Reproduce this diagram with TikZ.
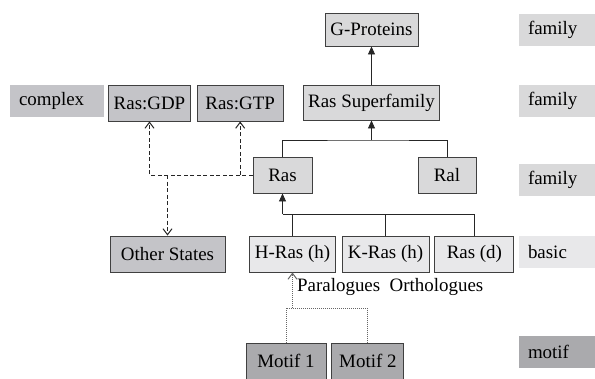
\documentclass[tikz,border=0pt]{standalone}
\usepackage{fontspec}
\setmainfont{Liberation Serif}
\usetikzlibrary{arrows.meta,positioning}
\definecolor{famfill}{RGB}{217,217,218}
\definecolor{cpxfill}{RGB}{196,196,200}
\definecolor{basfill}{RGB}{232,232,234}
\definecolor{motfill}{RGB}{170,170,173}
\tikzstyle{box} = [draw=black!75, line width=0.9bp, minimum height=36bp, inner xsep=5bp, font=\fontsize{19}{22}\selectfont]
\tikzstyle{tag} = [text width=58bp, inner xsep=9bp, minimum height=32bp, align=left, font=\fontsize{19}{22}\selectfont]
\tikzstyle{link} = [draw=black!85, line width=0.9bp]
\tikzstyle{uplink} = [link, -{Triangle[length=8bp,width=7bp]}]
\tikzstyle{openarr} = [-{Straight Barb[length=6bp,width=9bp,line width=1bp]}]
\tikzstyle{dashlink} = [link, dash pattern=on 4bp off 2.5bp, openarr]
\tikzstyle{dotlink} = [draw=black!60, line width=0.9bp, dash pattern=on 1bp off 1bp]

\begin{document}
\begin{tikzpicture}[x=1bp,y=-1bp]
\useasboundingbox (0,0) rectangle (595,378);

\node[box,fill=famfill,minimum width=93bp,minimum height=33bp] (gprot) at (371.5,29.5) {G-Proteins};
\node[box,fill=famfill,minimum height=35bp] (super) at (371.5,102.5) {Ras Superfamily};
\node[box,fill=famfill,minimum width=59bp] (ras) at (282.5,175) {Ras};
\node[box,fill=famfill,minimum width=58bp] (ral) at (447,175) {Ral};

\node[box,fill=basfill,minimum width=79bp] (hras) at (292.5,254) {H-Ras (h)};
\node[box,fill=basfill,minimum width=87bp,right=6bp of hras] (kras) {K-Ras (h)};
\node[box,fill=basfill,minimum width=79bp,right=5bp of kras] (rasd) {Ras (d)};

\node[box,fill=cpxfill,minimum width=79bp] (gdp) at (149.5,103) {Ras:GDP};
\node[box,fill=cpxfill,minimum width=86bp,right=6bp of gdp] (gtp) {Ras:GTP};
\node[box,fill=cpxfill,minimum width=115bp] (other) at (167.5,254) {Other States};

\node[box,fill=motfill,minimum width=80bp] (motA) at (286,361) {Motif 1};
\node[box,fill=motfill,minimum width=72bp,right=5bp of motA] (motB) {Motif 2};

\node[anchor=base west,inner sep=0,font=\fontsize{19}{22}\selectfont] (orth) at (297,291) {Paralogues~~Orthologues};

% level tags
\node[tag,fill=famfill] (tagA) at (557,30) {family};
\node[tag,fill=famfill] (tagB) at (557,101) {family};
\node[tag,fill=famfill] (tagC) at (557,180) {family};
\node[tag,fill=basfill] (tagD) at (557,252) {basic};
\node[tag,fill=motfill] (tagE) at (557,352) {motif};
\node[tag,fill=cpxfill,text width=76bp] (tagF) at (57,101) {complex};

% tree
\draw[uplink] (super) -- (gprot);
\coordinate (jsup) at (371.5,140);
\draw[link] (ras.north) |- (jsup) -| (ral.north);
\draw[uplink] (jsup) -- (super.south);
\coordinate (jras) at (282.5,214);
\draw[link] (jras) -| (rasd.north);
\draw[link] (hras.north) -- (hras.north |- jras);
\draw[link] (kras.north) -- (kras.north |- jras);
\draw[uplink] (jras) -- (ras.south);

% states
\draw[dashlink] (ras.west) -| (gdp.south);
\draw[dashlink] (ras.west -| gtp.south) -- (gtp.south);
\draw[dashlink] (ras.west -| other.north) -- (other.north);

% motifs
\coordinate (jmot) at (0,308);
\draw[dotlink] (motA.north) |- (jmot -| motB.north) -- (motB.north);
\draw[dotlink,openarr] (hras.south |- jmot) -- (hras.south);
\end{tikzpicture}
\end{document}
